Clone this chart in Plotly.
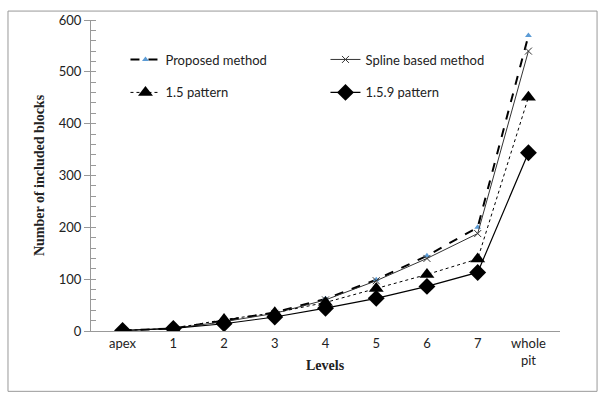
import plotly.graph_objects as go

levels = ["apex", "1", "2", "3", "4", "5", "6", "7", "whole<br>pit"]
proposed = [1, 5, 20, 36, 62, 99, 145, 200, 570]
spline = [1, 5, 18, 34, 60, 97, 140, 188, 540]
p15 = [1, 5, 22, 35, 55, 82, 109, 139, 451]
p159 = [1, 5, 14, 27, 44, 63, 86, 113, 344]

fig = go.Figure()
fig.add_trace(go.Scatter(x=levels, y=proposed, name="Proposed method", mode="lines+markers",
    line=dict(color="black", width=2, dash="dash"), legend="legend",
    marker=dict(symbol="triangle-up", size=6, color="#5b9bd5")))
fig.add_trace(go.Scatter(x=levels, y=spline, name="Spline based method", mode="lines+markers",
    line=dict(color="#333333", width=1), legend="legend",
    marker=dict(symbol="x-thin", size=7, line=dict(color="#333333", width=1))))
fig.add_trace(go.Scatter(x=levels, y=p15, name="1.5 pattern", mode="lines+markers",
    line=dict(color="black", width=1, dash="dot"), legend="legend2",
    marker=dict(symbol="triangle-up", size=13, color="black")))
fig.add_trace(go.Scatter(x=levels, y=p159, name="1.5.9 pattern", mode="lines+markers",
    line=dict(color="black", width=1.2), legend="legend2",
    marker=dict(symbol="diamond", size=13, color="black")))

leg = dict(orientation="h", xanchor="left", yanchor="middle",
           entrywidth=155, entrywidthmode="pixels", bgcolor="rgba(0,0,0,0)",
           font=dict(size=13))
fig.update_layout(
    width=598, height=394, paper_bgcolor="white", plot_bgcolor="white",
    margin=dict(l=91, r=38, t=17, b=63),
    font=dict(family="Lato, Open Sans, sans-serif", size=13, color="#222"),
    showlegend=True,
    legend=dict(leg, x=0.0735, y=0.873),
    legend2=dict(leg, x=0.0735, y=0.767),
    shapes=[dict(type="rect", xref="paper", yref="paper", x0=-0.177, x1=1.079, y0=-0.194, y1=1.0287,
                 line=dict(color="#999", width=1), layer="below")],
    annotations=[dict(text="<b>Levels</b>", xref="paper", yref="paper", x=0.5, y=-0.111,
                      yanchor="middle", xanchor="center",
                      showarrow=False, font=dict(family="Liberation Serif", size=14, color="#222"))],
)
fig.update_xaxes(showline=True, linecolor="#999", showgrid=False, ticks="")
fig.update_yaxes(range=[0, 600], dtick=100, showline=True, linecolor="#999", showgrid=False, zeroline=False,
                 ticks="outside", ticklen=6, tickcolor="#999",
                 minor=dict(dtick=20, ticks="inside", ticklen=5, tickcolor="#999"),
                 title=dict(text="<b>Number of included blocks</b>", font=dict(family="Liberation Serif", size=14, color="#222"), standoff=10))
fig.write_html("out.html")
